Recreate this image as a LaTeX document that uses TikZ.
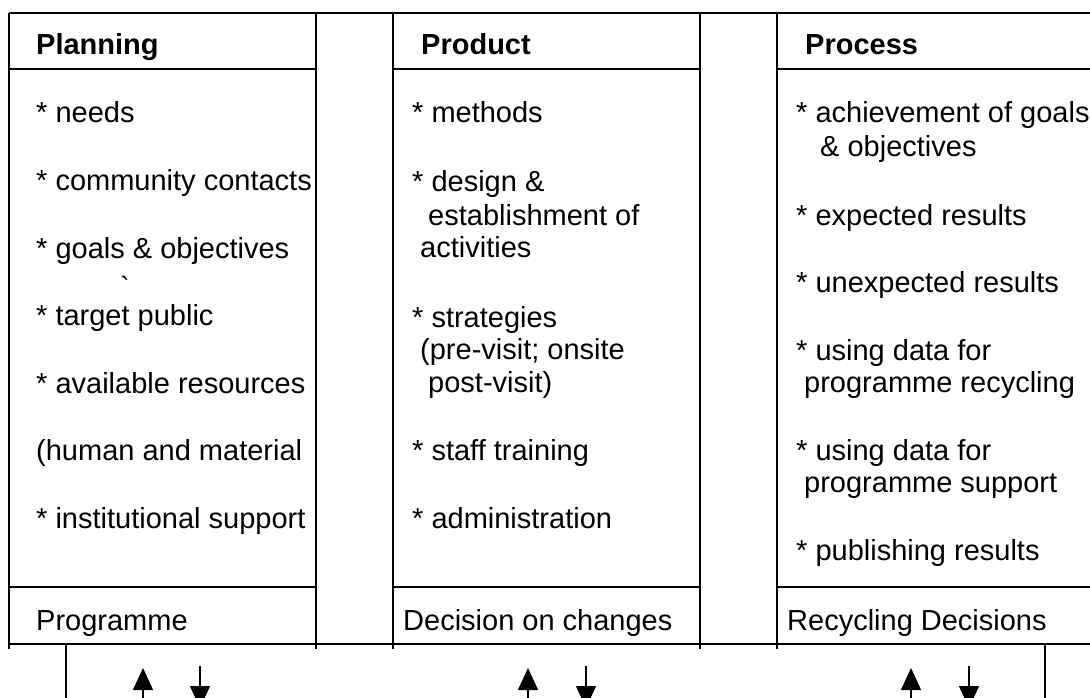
\documentclass[tikz,border=0pt]{standalone}
\usepackage{fontspec}
\setmainfont{Liberation Sans}
\newfontfamily\rawsans{Liberation Sans}
\usetikzlibrary{arrows.meta}
\begin{document}
\begin{tikzpicture}[x=1pt,y=-1pt,
  rule/.style={line width=1.3pt},
  baserule/.style={line width=1.9pt},
  txt/.style={anchor=base west, inner sep=0pt, font=\fontsize{29}{34}\selectfont},
  headtxt/.style={txt, font=\fontsize{29}{34}\selectfont\bfseries},
  upflow/.style={line width=1.3pt, -{Triangle[width=20pt,length=22pt]}},
  downflow/.style={line width=1.3pt, -{Triangle[width=20pt,length=22pt]}},
]
\useasboundingbox (0,0) rectangle (1090,698);
\clip (0,0) rectangle (1090,698);

% frame: top and bottom rules run across all three columns
\draw[rule] (9,13) -- (1090,13);
\draw[baserule] (9,644) -- (1090,644);
\foreach \xx in {9,316,393,700,777}
  \draw[rule] (\xx,13) -- (\xx,649);

% header and footer dividers inside each column
\foreach \xa/\xb in {9/316,393/700,777/1090} {
  \draw[rule] (\xa,69) -- (\xb,69);
  \draw[rule] (\xa,587) -- (\xb,587);
}

% feedback stubs below the table
\coordinate (lstubtop) at (66,644);
\coordinate (lstubbot) at (66,698);
\coordinate (rstubtop) at (1045,644);
\coordinate (rstubbot) at (1045,698);
\draw[rule] (lstubtop) -- (lstubbot);
\draw[rule] (rstubtop) -- (rstubbot);

% planning column
\node[headtxt] (planhead) at (36,55) {Planning};
\node[txt] (plan1) at (36,123) {* needs};
\node[txt] (plan2) at (36,190.5) {* community contacts};
\node[txt] (plan3) at (36,258) {* goals \& objectives};
\node[txt] (plantick) at (120,297) {\rawsans`};
\node[txt] (plan4) at (36,325.5) {* target public};
\node[txt] (plan5) at (36,393) {* available resources};
\node[txt] (plan6) at (36,460.5) {(human and material};
\node[txt] (plan7) at (36,528) {* institutional support};
\node[txt] (planfoot) at (36,630) {Programme};

% product column
\node[headtxt] (prodhead) at (421,55) {Product};
\node[txt] (prod1) at (412,123) {* methods};
\node[txt] (prod2a) at (412,192) {* design \&};
\node[txt] (prod2b) at (428,225) {establishment of};
\node[txt] (prod2c) at (420,257) {activities};
\node[txt] (prod3a) at (412,327) {* strategies};
\node[txt] (prod3b) at (420,359) {(pre-visit; onsite};
\node[txt] (prod3c) at (428,392) {post-visit)};
\node[txt] (prod4) at (412,460.5) {* staff training};
\node[txt] (prod5) at (412,528) {* administration};
\node[txt] (prodfoot) at (403,630) {Decision on changes};

% process column
\node[headtxt] (prochead) at (805,55) {Process};
\node[txt] (proc1a) at (796,123) {* achievement of goals};
\node[txt] (proc1b) at (820,157) {\& objectives};
\node[txt] (proc2) at (796,225) {* expected results};
\node[txt] (proc3) at (796,292.5) {* unexpected results};
\node[txt] (proc4a) at (796,360) {* using data for};
\node[txt] (proc4b) at (804,392.5) {programme recycling};
\node[txt] (proc5a) at (796,460) {* using data for};
\node[txt] (proc5b) at (804,492.5) {programme support};
\node[txt] (proc6) at (796,560) {* publishing results};
\node[txt] (procfoot) at (787,630) {Recycling Decisions};

% flow arrows under each column
\foreach \name/\ux/\dx in {plan/143/200, prod/528/586, proc/911/969} {
  \coordinate (\name upfrom) at (\ux,700);
  \coordinate (\name upto) at (\ux,668);
  \coordinate (\name downfrom) at (\dx,666);
  \coordinate (\name downto) at (\dx,708);
  \draw[upflow] (\name upfrom) -- (\name upto);
  \draw[downflow] (\name downfrom) -- (\name downto);
}
\end{tikzpicture}
\end{document}
